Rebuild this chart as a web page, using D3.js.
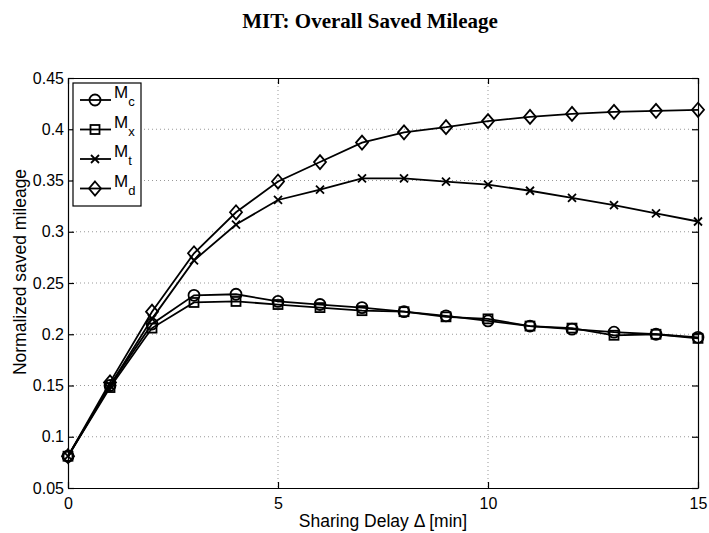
<!DOCTYPE html>
<html>
<head>
  <meta charset="utf-8">
  <title>MIT: Overall Saved Mileage</title>
  <script src="https://d3js.org/d3.v7.min.js"></script>
  <style>
    body { margin: 0; background: white; }
    .grid line { stroke: #999; stroke-dasharray: 1,3; stroke-width: 1px; }
    .axis text { font: 16px "Liberation Sans", Arial, sans-serif; fill: #000; }
    .line { fill: none; stroke: #000; stroke-width: 1.8px; }
  </style>
</head>
<body>
<script>
  // Data
  var delays = [0, 1, 2, 3, 4, 5, 6, 7, 8, 9, 10, 11, 12, 13, 14, 15];
  var mc = [0.081, 0.150, 0.210, 0.238, 0.239, 0.232, 0.229, 0.226, 0.222, 0.218, 0.213, 0.208, 0.205, 0.202, 0.200, 0.197];
  var mx = [0.081, 0.148, 0.206, 0.231, 0.232, 0.229, 0.226, 0.223, 0.222, 0.217, 0.215, 0.208, 0.206, 0.199, 0.200, 0.196];
  var mt = [0.081, 0.150, 0.215, 0.272, 0.307, 0.331, 0.341, 0.352, 0.352, 0.349, 0.346, 0.340, 0.333, 0.326, 0.318, 0.310];
  var md = [0.081, 0.153, 0.222, 0.279, 0.319, 0.349, 0.368, 0.387, 0.397, 0.402, 0.408, 0.412, 0.415, 0.417, 0.418, 0.419];
  var xTicks = [0, 5, 10, 15];
  var yTicks = [0.05, 0.1, 0.15, 0.2, 0.25, 0.3, 0.35, 0.4, 0.45];

  var series = [
    {sub: "c", marker: "circle", values: mc},
    {sub: "x", marker: "square", values: mx},
    {sub: "t", marker: "cross", values: mt},
    {sub: "d", marker: "diamond", values: md}
  ];

  var W = 709, H = 533;
  var margin = {top: 78, right: 11, bottom: 45, left: 68};
  var width = W - margin.left - margin.right;
  var height = H - margin.top - margin.bottom;

  var svg = d3.select("body").append("svg")
      .attr("width", W).attr("height", H);

  svg.append("text")
      .attr("x", 370).attr("y", 28)
      .attr("text-anchor", "middle")
      .style("font", "bold 21px 'Liberation Serif', 'Times New Roman', serif")
      .text("MIT: Overall Saved Mileage");

  var g = svg.append("g")
      .attr("transform", "translate(" + margin.left + "," + margin.top + ")");

  var x = d3.scaleLinear().domain([0, 15]).range([0, width]);
  var y = d3.scaleLinear().domain([0.05, 0.45]).range([height, 0]);

  // Grid
  g.append("g").attr("class", "grid")
    .selectAll("line").data(xTicks.slice(1, -1)).enter().append("line")
      .attr("x1", d => x(d)).attr("x2", d => x(d))
      .attr("y1", 0).attr("y2", height);
  g.append("g").attr("class", "grid")
    .selectAll("line").data(yTicks.slice(1, -1)).enter().append("line")
      .attr("y1", d => y(d)).attr("y2", d => y(d))
      .attr("x1", 0).attr("x2", width);

  // Axes (ticks inward, MATLAB style)
  var fmt = d3.format("");
  g.append("g").attr("class", "axis")
      .attr("transform", "translate(0," + height + ")")
      .call(d3.axisBottom(x).tickValues(xTicks).tickSizeInner(-6).tickSizeOuter(0).tickPadding(10).tickFormat(fmt));
  g.append("g").attr("class", "axis")
      .call(d3.axisLeft(y).tickValues(yTicks).tickSizeInner(-6).tickSizeOuter(0).tickPadding(4).tickFormat(fmt));
  g.append("g").attr("class", "axis")
      .call(d3.axisTop(x).tickValues(xTicks).tickSizeInner(-6).tickSizeOuter(0).tickFormat(""));
  g.append("g").attr("class", "axis")
      .attr("transform", "translate(" + width + ",0)")
      .call(d3.axisRight(y).tickValues(yTicks).tickSizeInner(-6).tickSizeOuter(0).tickFormat(""));
  g.selectAll(".axis path, .axis line").attr("stroke", "#000").attr("stroke-width", 1.2);

  // Axis labels
  svg.append("text")
      .attr("x", margin.left + width / 2).attr("y", H - 6)
      .attr("text-anchor", "middle")
      .style("font", "17.5px 'Liberation Sans', Arial, sans-serif")
      .text("Sharing Delay \u0394 [min]");
  svg.append("text")
      .attr("transform", "translate(26,272) rotate(-90)")
      .attr("text-anchor", "middle")
      .style("font", "17.5px 'Liberation Sans', Arial, sans-serif")
      .text("Normalized saved mileage");

  // Markers
  function drawMarker(sel, type) {
    if (type === "circle") {
      sel.append("circle").attr("r", 5.5);
    } else if (type === "square") {
      sel.append("rect").attr("x", -4.5).attr("y", -4.5).attr("width", 9).attr("height", 9);
    } else if (type === "cross") {
      sel.append("path").attr("d", "M-4,-4L4,4M-4,4L4,-4");
    } else {
      sel.append("path").attr("d", "M0,-7L6,0L0,7L-6,0Z");
    }
    sel.selectAll("*").attr("fill", "none").attr("stroke", "#000").attr("stroke-width", 1.8);
  }

  var line = d3.line()
      .x((d, i) => x(delays[i]))
      .y(d => y(d));

  series.forEach(function(s) {
    g.append("path").attr("class", "line").attr("d", line(s.values));
    s.values.forEach(function(v, i) {
      var m = g.append("g").attr("transform", "translate(" + x(delays[i]) + "," + y(v) + ")");
      drawMarker(m, s.marker);
    });
  });

  // Legend
  var leg = svg.append("g").attr("transform", "translate(73,83)");
  leg.append("rect").attr("width", 68).attr("height", 123)
      .attr("fill", "white").attr("stroke", "#000").attr("stroke-width", 1.2);
  series.forEach(function(s, i) {
    var row = leg.append("g").attr("transform", "translate(0," + (17 + i * 29.5) + ")");
    row.append("line").attr("x1", 7).attr("x2", 38).attr("stroke", "#000").attr("stroke-width", 1.8);
    var m = row.append("g").attr("transform", "translate(22,0)");
    drawMarker(m, s.marker);
    var t = row.append("text").attr("x", 41).attr("y", -2)
        .style("font", "17px 'Liberation Sans', Arial, sans-serif");
    t.append("tspan").text("M");
    t.append("tspan").attr("dy", 8).style("font-size", "13px").text(s.sub);
  });
</script>
</body>
</html>
